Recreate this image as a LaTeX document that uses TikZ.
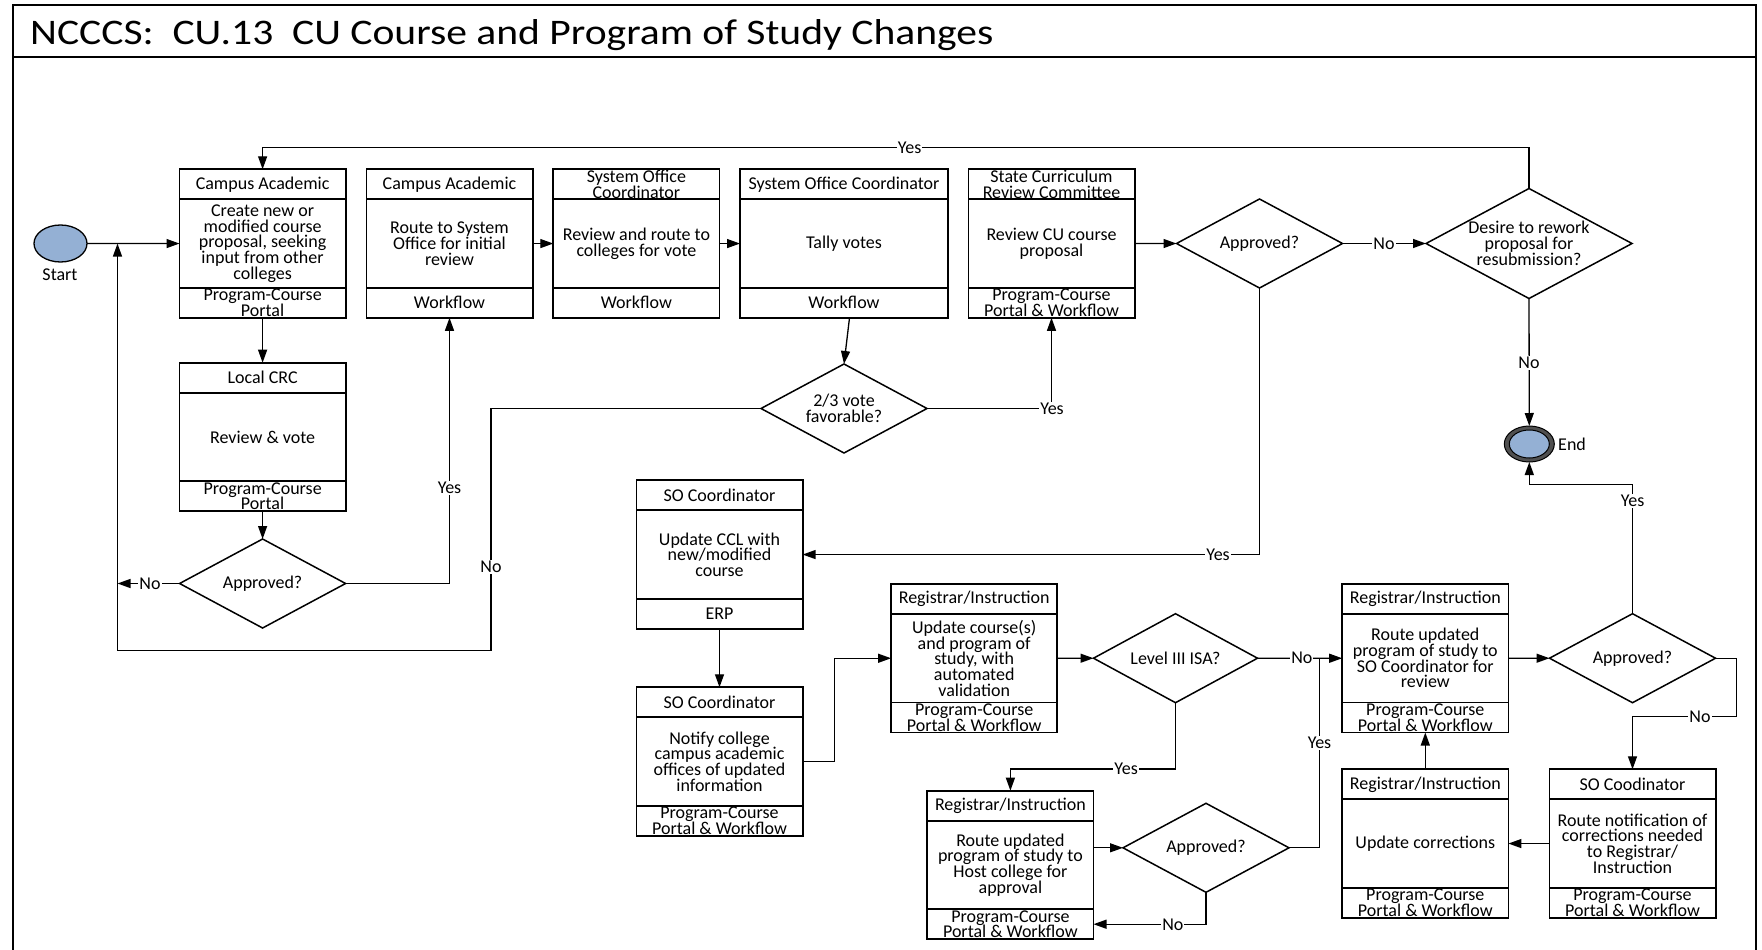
\documentclass[tikz,border=0pt]{standalone}
\usepackage{fontspec}
\setmainfont{Carlito}
\newfontfamily\titlefont{Carlito}[FakeStretch=1.155]
\usetikzlibrary{shapes.geometric,arrows.meta}
\definecolor{evfill}{RGB}{148,176,212}
\definecolor{ringgray}{RGB}{80,80,80}
\tikzset{
  part/.style={draw, line width=1.8pt, inner sep=0pt, outer sep=0pt},
  txt/.style={inner sep=0pt, align=center, font=\fontsize{18}{15.7}\selectfont},
  dia/.style={diamond, draw, line width=1.5pt, inner sep=0pt, outer sep=0pt,
              minimum width=166pt, minimum height=89pt},
  conn/.style={line width=1.3pt},
  arr/.style={conn, -{Triangle[length=13pt,width=9pt]}},
  lbl/.style={fill=white, inner sep=1pt, font=\fontsize{18}{18}\selectfont},
}
% process box: name, centre x, top y, width, header, body, footer
\newcommand\procbox[7]{%
  \node[part, minimum width=#4pt, minimum height=30pt, anchor=north] (#1-h) at (#2,#3) {};
  \node[part, minimum width=#4pt, minimum height=88.5pt, anchor=north] (#1-b) at (#1-h.south) {};
  \node[part, minimum width=#4pt, minimum height=30pt, anchor=north] (#1-f) at (#1-b.south) {};
  \node[txt] (#1-ht) at (#1-h.center) {#5};
  \node[txt] (#1-bt) at (#1-b.center) {#6};
  \node[txt] (#1-ft) at (#1-f.center) {#7};
}
\begin{document}
\begin{tikzpicture}[x=1pt,y=-1pt]
\useasboundingbox (0,0) rectangle (1762,950);

% frame and title bar
\draw[line width=2pt] (13,960) -- (13,5.5) -- (1756,5.5) -- (1756,960);
\draw[line width=2pt] (13,57.5) -- (1756,57.5);
\node[anchor=base west, inner sep=0pt, font=\titlefont\fontsize{36}{36}\selectfont] (title) at (30,45)
  {NCCCS:\ \ CU.13\ \ CU Course and Program of Study Changes};

% events
\node[ellipse, draw, line width=1.3pt, fill=evfill, minimum width=53pt, minimum height=37pt,
      inner sep=0pt, outer sep=0pt] (start) at (60.5,243.5) {};
\node[txt] (start-t) at (60,275) {Start};
\node[ellipse, draw, line width=1pt, fill=ringgray, minimum width=50pt, minimum height=36pt,
      inner sep=0pt, outer sep=0pt] (end) at (1529.3,444) {};
\node[ellipse, draw, line width=1pt, fill=evfill, minimum width=40pt, minimum height=28pt,
      inner sep=0pt] (end-in) at (end.center) {};
\node[txt, anchor=west] (end-t) at (1558,444) {End};

% process boxes
\procbox{b1}{262.6}{169.3}{166.2}{Campus Academic}{Create new or\\modified course\\proposal, seeking\\input from other\\colleges}{Program-Course\\Portal}
\procbox{b2}{449.5}{169.3}{166.2}{Campus Academic}{Route to System\\Office for initial\\review}{Workflow}
\procbox{b3}{636.4}{169.3}{166.2}{System Office\\Coordinator}{Review and route to\\colleges for vote}{Workflow}
\procbox{b4}{844}{169.3}{208}{System Office Coordinator}{Tally votes}{Workflow}
\procbox{b5}{1051.5}{169.3}{166.2}{State Curriculum\\Review Committee}{Review CU course\\proposal}{Program-Course\\Portal \& Workflow}
\procbox{crc}{262.6}{362.7}{166.2}{Local CRC}{Review \& vote}{Program-Course\\Portal}
\procbox{ccl}{719.5}{480.3}{166.2}{SO Coordinator}{Update CCL with\\new/modified\\course}{ERP}
\procbox{ntf}{719.5}{687.3}{166.2}{SO Coordinator}{Notify college\\campus academic\\offices of updated\\information}{Program-Course\\Portal \& Workflow}
\procbox{r1}{974.2}{584}{166.2}{Registrar/Instruction}{Update course(s)\\and program of\\study, with\\automated\\validation}{Program-Course\\Portal \& Workflow}
\procbox{r2}{1425.3}{584}{166.2}{Registrar/Instruction}{Route updated\\program of study to\\SO Coordinator for\\review}{Program-Course\\Portal \& Workflow}
\procbox{r3}{1010.4}{790.7}{166.2}{Registrar/Instruction}{Route updated\\program of study to\\Host college for\\approval}{Program-Course\\Portal \& Workflow}
\procbox{r4}{1425.3}{769.3}{166.2}{Registrar/Instruction}{Update corrections}{Program-Course\\Portal \& Workflow}
\procbox{soc}{1632.5}{769.3}{166.2}{SO Coodinator}{Route notification of\\corrections needed\\to Registrar/\\Instruction}{Program-Course\\Portal \& Workflow}

% decisions
\node[dia] (d1) at (262.6,583.5) {};
\node[txt] (d1-t) at (d1.center) {Approved?};
\node[dia] (d2) at (844,408.5) {};
\node[txt] (d2-t) at (d2.center) {2/3 vote\\favorable?};
\node[dia] (d3) at (1259.5,243.5) {};
\node[txt] (d3-t) at (d3.center) {Approved?};
\node[dia, minimum width=206pt, minimum height=110pt] (d4) at (1529,243.5) {};
\node[txt] (d4-t) at (d4.center) {Desire to rework\\proposal for\\resubmission?};
\node[dia, minimum width=164pt] (d5) at (1175.5,658.2) {};
\node[txt] (d5-t) at (d5.center) {Level III ISA?};
\node[dia] (d6) at (1206,847.8) {};
\node[txt] (d6-t) at (d6.center) {Approved?};
\node[dia] (d7) at (1632.5,658.2) {};
\node[txt] (d7-t) at (d7.center) {Approved?};

% bend points
\coordinate (loopL) at (117.5,650.7);
\coordinate (loopR) at (491,650.7);
\coordinate (topk) at (262.6,147.3);
\coordinate (nk) at (834.2,0);
\coordinate (k5) at (1175.5,769);
\coordinate (k6) at (1319.5,0);
\coordinate (k7) at (0,484.3);
\coordinate (k8) at (1736.6,716.7);

% connectors
\draw[arr] (start) -- (b1-b.west);
\draw[arr] (d2.west) -| (loopR) -- (loopL) -- (loopL |- b1-b.west);
\draw[arr] (d1.west) -- (d1.west -| loopL);
\draw[arr] (d1.east) -| (b2-f.south);
\draw[arr] (b1-f.south) -- (crc-h.north);
\draw[arr] (crc-f.south) -- (d1.north);
\draw[arr] (b2-b.east) -- (b3-b.west);
\draw[arr] (b3-b.east) -- (b4-b.west);
\draw[arr] ([xshift=5.5pt]b4-f.south) -- (d2.north);
\draw[arr] (d2.east) -| (b5-f.south);
\draw[arr] (b5-b.east) -- (d3.west);
\draw[arr] (d3.east) -- (d4.west);
\draw[arr] (d4.south) -- (end.north);
\draw[arr] (d4.north) |- (topk) -- (b1-h.north);
\draw[arr] (d3.south) |- (ccl-b.east);
\draw[arr] (ccl-f.south) -- (ntf-h.north);
\draw[arr] (ntf-b.east) -- (ntf-b.east -| nk) |- (r1-b.west);
\draw[arr] (r1-b.east) -- (d5.west);
\draw[arr] (d5.east) -- (r2-b.west);
\draw[arr] (d5.south) -- (k5) -| (r3-h.north);
\draw[arr] (r3-b.east |- d6.west) -- (d6.west);
\draw[arr] (d6.south) |- (r3-f.east);
\draw[conn] (d6.east) -| (k6 |- d5.east);
\draw[arr] (r2-b.east) -- (d7.west);
\draw[arr] (d7.north) |- (k7 -| end.south) -- (end.south);
\draw[arr] (d7.east) -| (k8) -| (soc-h.north);
\draw[arr] (soc-b.west) -- (r4-b.east);
\draw[arr] (r4-h.north) -- (r2-f.south);

% connector labels
\node[lbl] (l1) at (909.6,147.3) {Yes};
\node[lbl] (l2) at (1384,243.5) {No};
\node[lbl] (l3) at (1529,362.7) {No};
\node[lbl] (l4) at (449.5,487.7) {Yes};
\node[lbl] (l5) at (150,583.5) {No};
\node[lbl] (l6) at (491,566.7) {No};
\node[lbl] (l7) at (1052,408.5) {Yes};
\node[lbl] (l8) at (1218,554.5) {Yes};
\node[lbl] (l9) at (1301.8,658.2) {No};
\node[lbl] (l10) at (1126.2,769) {Yes};
\node[lbl] (l11) at (1172.9,924.3) {No};
\node[lbl] (l12) at (1319.5,742.7) {Yes};
\node[lbl] (l13) at (1700,716.7) {No};
\node[lbl] (l14) at (1632.7,500.7) {Yes};
\end{tikzpicture}
\end{document}
